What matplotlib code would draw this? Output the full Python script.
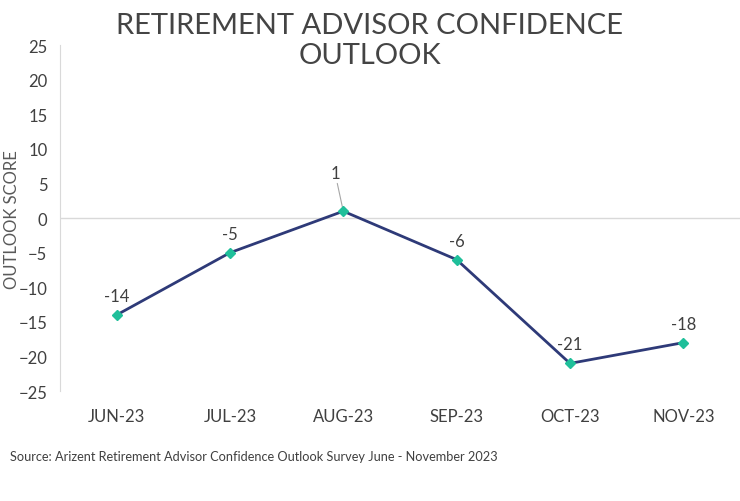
import matplotlib.pyplot as plt

months = ["JUN-23", "JUL-23", "AUG-23", "SEP-23", "OCT-23", "NOV-23"]
scores = [-14, -5, 1, -6, -21, -18]
yticks = [-25, -20, -15, -10, -5, 0, 5, 10, 15, 20, 25]

plt.rcParams['font.family'] = ['Lato', 'DejaVu Sans']

fig = plt.figure(figsize=(7.4, 5.02), dpi=100)
ax = fig.add_axes([0.081, 0.219, 0.919, 0.689])

x = list(range(len(months)))
ax.plot(x, scores, color="#2E3A78", lw=2, zorder=3)
ax.plot(x, scores, ls="none", marker="D", ms=5, color="#1FBF9A", zorder=4)

ax.set_xlim(-0.5, len(months) - 0.5)
ax.set_ylim(-25, 25)
ax.set_yticks(yticks)
ax.set_xticks(x)
ax.set_xticklabels(months, fontsize=12.5)
ax.axhline(0, color="#D9D9D9", lw=1, zorder=1)

for s in ["top", "right", "bottom"]:
    ax.spines[s].set_visible(False)
ax.spines["left"].set_color("#D9D9D9")
ax.tick_params(length=0, labelsize=12, colors="#404040")
ax.tick_params(axis="x", pad=12)
ax.tick_params(axis="y", pad=9)

for i, v in enumerate(scores):
    if v == 1:
        ax.annotate(str(v), xy=(i, v), xytext=(-6, 22), textcoords="offset points",
                    ha="center", va="bottom", fontsize=12, color="#404040",
                    arrowprops=dict(arrowstyle="-", color="#A6A6A6", lw=0.8,
                                    shrinkA=0, shrinkB=3))
    else:
        ax.annotate(str(v), xy=(i, v), xytext=(0, 8), textcoords="offset points",
                    ha="center", va="bottom", fontsize=12, color="#404040")

ax.set_ylabel("OUTLOOK SCORE", fontsize=12, color="#595959")
ax.yaxis.set_label_coords(-0.058, 0.5)

fig.text(0.5, 0.918, "RETIREMENT ADVISOR CONFIDENCE\nOUTLOOK", ha="center", va="center",
         fontsize=21, color="#444444", linespacing=1.2)
fig.text(0.013, 0.082, "Source: Arizent Retirement Advisor Confidence Outlook Survey June - November 2023",
         fontsize=9.2, color="#404040")

fig.savefig("out.png", dpi=100)
